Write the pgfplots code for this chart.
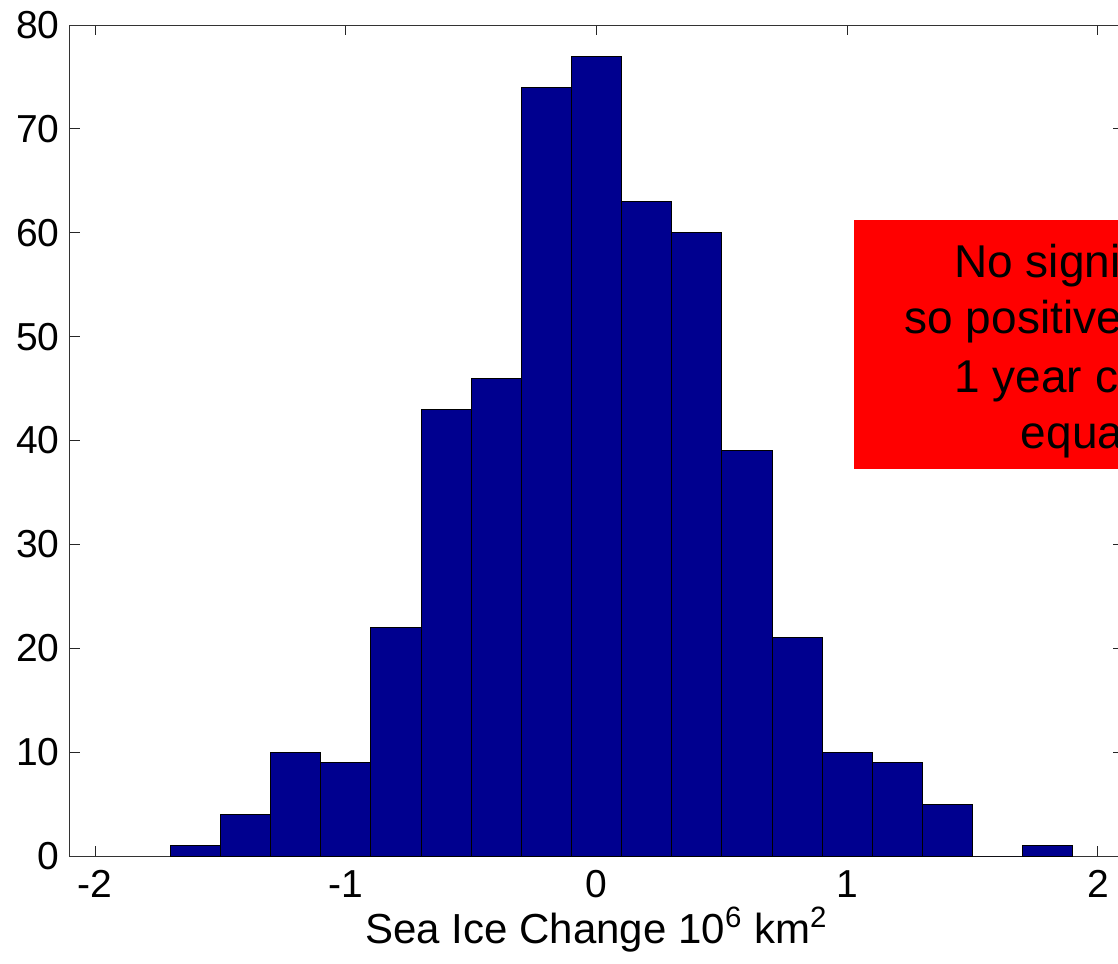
\documentclass[border=0pt]{standalone}
\usepackage{fontspec}
\setmainfont{Liberation Sans}
\usepackage{pgfplots}
\pgfplotsset{compat=1.18}
\definecolor{barblue}{RGB}{0,0,143}
\begin{document}
\begin{tikzpicture}
\path[use as bounding box, clip] (-35pt,-53.5pt) rectangle (524pt,428pt);
\begin{axis}[
  scale only axis,
  width=526.5pt, height=415.5pt,
  xmin=-2.1, xmax=2.1, ymin=0, ymax=80,
  enlargelimits=false,
  xtick={-2,-1,0,1,2},
  ytick={0,10,...,80},
  tick align=inside,
  major tick length=5pt,
  tick style={black!85, line width=0.5pt},
  axis line style={black!80, line width=0.5pt},
  /pgf/number format/assume math mode=true,
  ticklabel style={font=\fontsize{19.5}{23}\selectfont},
  yticklabel style={inner sep=0pt, xshift=-5pt},
  xticklabel style={inner sep=0pt, yshift=-7pt},
  xlabel={Sea Ice Change 10\textsuperscript{6} km\textsuperscript{2}},
  xlabel style={font=\fontsize{21}{25}\selectfont, at={(axis description cs:0.5,0)}, anchor=base, yshift=-43.5pt},
  clip=false,
]
\addplot[ybar interval, fill=barblue, draw=black, line width=0.5pt] coordinates {
  (-1.7,1) (-1.5,4) (-1.3,10) (-1.1,9) (-0.9,22) (-0.7,43) (-0.5,46)
  (-0.3,74) (-0.1,77) (0.1,63) (0.3,60) (0.5,39) (0.7,21) (0.9,10)
  (1.1,9) (1.3,5) (1.5,0) (1.7,1) (1.9,1)
};
\fill[red] (axis cs:1.029,37.25) rectangle (axis cs:3.4,61.2);
\begin{scope}[every node/.style={anchor=base, inner sep=0pt, font=\fontsize{23}{28}\selectfont}]
\node at (axis cs:2.213,55.73) {No significant trend};
\node at (axis cs:2.213,50.34) {so positive and negative};
\node at (axis cs:2.213,44.66) {1 year changes are};
\node at (axis cs:2.213,39.27) {equally likely};
\end{scope}
\end{axis}
\end{tikzpicture}
\end{document}
